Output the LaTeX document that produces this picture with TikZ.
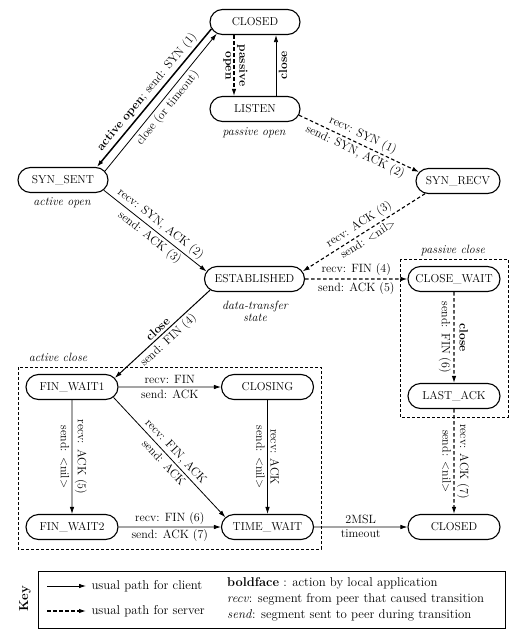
\documentclass[tikz,border=0pt]{standalone}
\usetikzlibrary{shapes.misc,arrows.meta}
\begin{document}
\begin{tikzpicture}[x=1pt,y=-1pt,
  state/.style={rounded rectangle, draw, line width=1.1pt, minimum width=92pt, minimum height=25pt, inner sep=0pt, fill=white, font=\fontsize{11.5}{13}\selectfont},
  lbl/.style={font=\fontsize{12}{14}\selectfont, inner sep=2.5pt},
  rlab/.style={lbl, rotate=-90, anchor=south},
  llab/.style={lbl, rotate=-90, anchor=north},
  note/.style={font=\fontsize{12}{14}\selectfont\itshape, align=center},
  keytxt/.style={font=\fontsize{12.8}{16}\selectfont, align=left},
  tip/.style={-{Latex[length=7pt,width=4.5pt]}},
  cli/.style={tip, line width=0.8pt},
  srv/.style={tip, line width=1.1pt, dash pattern=on 3.5pt off 2.5pt},
  grp/.style={draw, line width=0.8pt, dash pattern=on 3pt off 2pt},
]
\useasboundingbox (0,0) rectangle (525,637);

% group boxes
\draw[grp] (18,367) rectangle (321,549);
\draw[grp] (400,259) rectangle (508,417);

% states
\node[state, minimum width=90pt] (closed) at (255,22) {CLOSED};
\node[state, minimum width=90pt] (listen) at (255,109) {LISTEN};
\node[state, minimum width=90pt] (synsent) at (63,180) {SYN\_SENT};
\node[state, minimum width=84pt] (synrecv) at (458,181) {SYN\_RECV};
\node[state, minimum width=100pt] (estab) at (254.5,279) {ESTABLISHED};
\node[state] (closewait) at (454,279) {CLOSE\_WAIT};
\node[state] (lastack) at (454,396) {LAST\_ACK};
\node[state] (fw1) at (72,387) {FIN\_WAIT1};
\node[state] (closing) at (267.5,387) {CLOSING};
\node[state] (fw2) at (72,527) {FIN\_WAIT2};
\node[state] (tw) at (267.5,527) {TIME\_WAIT};
\node[state] (closed2) at (454,527) {CLOSED};

% notes
\node[note] (n1) at (254,133) {passive open};
\node[note] (n2) at (62,203) {active open};
\node[note] (n3) at (255,311) {data-transfer\\[-2pt]state};
\node[note] (n4) at (453,250) {passive close};
\node[note] (n5) at (58,357) {active close};

% connectors
\draw[cli, line width=1.5pt] (closed.189) -- (synsent.21)
  node[midway, above, sloped, lbl] {\textbf{active open}; send: SYN (1)};
\draw[cli] (synsent.12) -- (closed.197)
  node[midway, below, sloped, lbl] {close (or timeout)};
\draw[srv] ([xshift=-21pt]closed.south) -- ([xshift=-21pt]listen.north)
  node[midway, rlab] {\textbf{passive}}
  node[midway, llab] {\textbf{open}};
\draw[cli] ([xshift=21pt]listen.north) -- ([xshift=21pt]closed.south)
  node[midway, lbl, rotate=90, anchor=north] {\textbf{close}};
\draw[srv] (listen.352) -- (synrecv.167)
  node[midway, above, sloped, lbl] {recv: SYN (1)}
  node[midway, below, sloped, lbl] {send: SYN, ACK (2)};
\draw[cli] (synsent.346) -- (estab.171)
  node[midway, above, sloped, lbl] {recv: SYN, ACK (2)}
  node[midway, below, sloped, lbl] {send: ACK (3)};
\draw[srv] (synrecv.201) -- (estab.9)
  node[midway, above, sloped, lbl] {recv: ACK (3)}
  node[midway, below, sloped, lbl] {send: \textless nil\textgreater};
\draw[srv] (estab) -- (closewait)
  node[midway, above, lbl] {recv: FIN (4)}
  node[midway, below, lbl] {send: ACK (5)};
\draw[cli, line width=1pt] (estab.194) -- (fw1.12)
  node[midway, above, sloped, lbl] {\textbf{close}}
  node[midway, below, sloped, lbl] {send: FIN (4)};
\draw[srv] (closewait) -- (lastack)
  node[midway, rlab, inner sep=5pt] {\textbf{close}}
  node[midway, llab] {send: FIN (6)};
\draw[srv] (lastack) -- (closed2)
  node[midway, rlab] {recv: ACK (7)}
  node[midway, llab] {send: \textless nil\textgreater};
\draw[cli] (fw1) -- (closing)
  node[midway, above, lbl] {recv: FIN}
  node[midway, below, lbl] {send: ACK};
\draw[cli] (fw1) -- (fw2)
  node[midway, rlab] {recv: ACK (5)}
  node[midway, llab] {send: \textless nil\textgreater};
\draw[cli] (fw1.346) -- (tw.167)
  node[midway, above, sloped, lbl] {recv: FIN, ACK}
  node[midway, below, sloped, lbl] {send: ACK};
\draw[cli] (closing) -- (tw)
  node[midway, rlab] {recv: ACK}
  node[midway, llab] {send: \textless nil\textgreater};
\draw[cli] (fw2) -- (tw)
  node[midway, above, lbl] {recv: FIN (6)}
  node[midway, below, lbl] {send: ACK (7)};
\draw[cli] (tw) -- (closed2)
  node[midway, above, lbl] {2MSL}
  node[midway, below, lbl] {timeout};

% key
\node[draw, line width=0.8pt, minimum width=467pt, minimum height=57pt, anchor=north west, inner sep=0pt] (keybox) at (38,571) {};
\node[rotate=90, font=\fontsize{13}{15}\selectfont\bfseries] (keylbl) at (25,599) {Key};
\coordinate (k1a) at (47,586);
\coordinate (k1b) at (86,586);
\coordinate (k2a) at (47,611);
\coordinate (k2b) at (86,611);
\draw[cli] (k1a) -- (k1b);
\draw[srv] (k2a) -- (k2b);
\node[keytxt, anchor=west] (k1t) at (88,586) {usual path for client};
\node[keytxt, anchor=west] (k2t) at (88,611) {usual path for server};
\node[keytxt, anchor=west, inner sep=0pt] (k3t) at (227,599) {\textbf{boldface} : action by local application\\
\textit{recv}: segment from peer that caused transition\\
\textit{send}: segment sent to peer during transition};
\end{tikzpicture}
\end{document}
